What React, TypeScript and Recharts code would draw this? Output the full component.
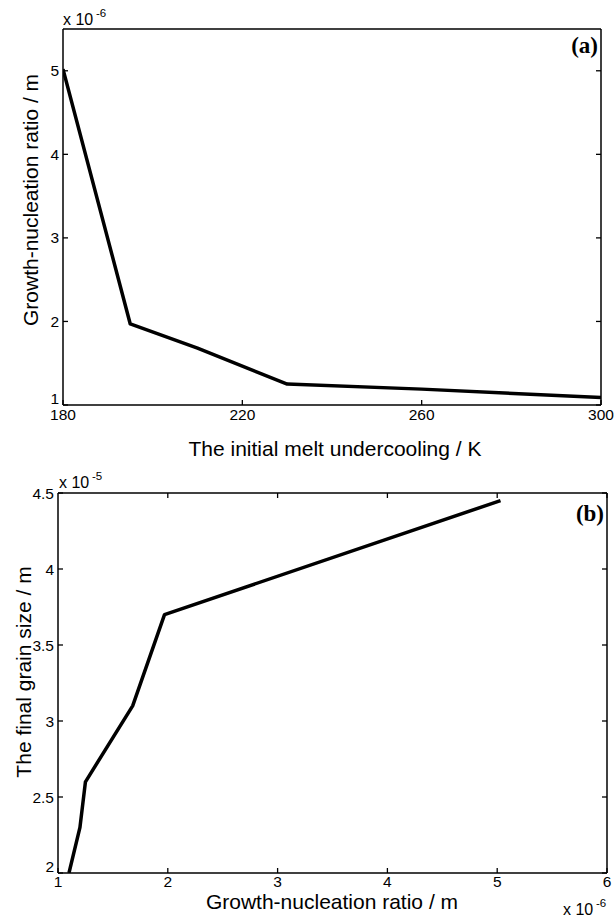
import React from "react";
import { LineChart, Line, XAxis, YAxis, Label } from "recharts";

// (a) growth-nucleation ratio (x 1e-6 m) against initial melt undercooling (K)
const undercooling = [180, 195, 210, 230, 260, 300];
const ratioA = [5.02, 1.97, 1.68, 1.25, 1.19, 1.09];

// (b) final grain size (x 1e-5 m) against growth-nucleation ratio (x 1e-6 m)
const ratioB = [1.1, 1.2, 1.25, 1.68, 1.97, 5.03];
const grainSize = [2.0, 2.3, 2.6, 3.1, 3.7, 4.45];

const xTicksA = [180, 220, 260, 300];
const yTicksA = [1, 2, 3, 4, 5];
const xTicksB = [1, 2, 3, 4, 5, 6];
const yTicksB = [2, 2.5, 3, 3.5, 4, 4.5];

const dataA = undercooling.map((x, i) => ({ x, y: ratioA[i] }));
const dataB = ratioB.map((x, i) => ({ x, y: grainSize[i] }));

const SANS = '"Liberation Sans", Arial, sans-serif';
const SERIF = '"Liberation Serif", "Times New Roman", serif';
const TICK_LEN = 5;
const TICK_FONT = 15.5;
const TITLE_FONT = 21;

// inward MATLAB-style tick marks, optional label
function makeTick(side: string, showLabel: boolean, minVal?: number, labelGap = 9) {
  return (props: any) => {
    const { x, y, payload } = props;
    const v = payload.value;
    let line;
    let label = null;
    const txt = { fontFamily: SANS, fontSize: TICK_FONT, fill: "#000" };
    if (side === "bottom") {
      line = <line x1={x} y1={y} x2={x} y2={y - TICK_LEN} stroke="#000" strokeWidth={1.3} />;
      if (showLabel)
        label = (
          <text x={x} y={y + labelGap} textAnchor="middle" dominantBaseline="central" {...txt}>
            {String(v)}
          </text>
        );
    } else if (side === "top") {
      line = <line x1={x} y1={y} x2={x} y2={y + TICK_LEN} stroke="#000" strokeWidth={1.3} />;
    } else if (side === "left") {
      line = <line x1={x} y1={y} x2={x + TICK_LEN} y2={y} stroke="#000" strokeWidth={1.3} />;
      if (showLabel)
        label = (
          <text
            x={x - 4}
            y={v === minVal ? y - 7 : y}
            textAnchor="end"
            dominantBaseline="central"
            {...txt}
          >
            {String(v)}
          </text>
        );
    } else {
      line = <line x1={x} y1={y} x2={x - TICK_LEN} y2={y} stroke="#000" strokeWidth={1.3} />;
    }
    return (
      <g>
        {line}
        {label}
      </g>
    );
  };
}

const axisLine = { stroke: "#000", strokeWidth: 1.5 };

function Exponent({ x, y, exp }: { x: number; y: number; exp: string }) {
  return (
    <g fontFamily={SANS} fill="#000">
      <text x={x} y={y} fontSize={16}>
        x 10
      </text>
      <text x={x + 33} y={y - 8} fontSize={11.5}>
        {exp}
      </text>
    </g>
  );
}

export default function App() {
  return (
    <div style={{ position: "absolute", left: 0, top: 0, width: 615, height: 918, background: "#fff" }}>
      {/* Panel (a): plot box 63..601 x 29..405 */}
      <div style={{ position: "absolute", left: 0, top: 0 }}>
        <LineChart
          width={615}
          height={470}
          data={dataA}
          margin={{ top: 19, right: 9, bottom: 45, left: 33 }}
        >
          <XAxis
            dataKey="x"
            type="number"
            domain={[180, 300]}
            ticks={xTicksA}
            interval={0}
            height={20}
            tickSize={0}
            tickMargin={0}
            axisLine={axisLine}
            tickLine={false}
            tick={makeTick("bottom", true)}
            allowDataOverflow
          >
            <Label
              content={() => (
                <text
                  x={335}
                  y={448}
                  textAnchor="middle"
                  dominantBaseline="central"
                  fontFamily={SANS}
                  fontSize={TITLE_FONT}
                  fill="#000"
                >
                  The initial melt undercooling / K
                </text>
              )}
            />
          </XAxis>
          <XAxis
            xAxisId="top"
            orientation="top"
            type="number"
            domain={[180, 300]}
            ticks={xTicksA}
            interval={0}
            height={10}
            tickSize={0}
            tickMargin={0}
            axisLine={axisLine}
            tickLine={false}
            tick={makeTick("top", false)}
            allowDataOverflow
          >
            <Label
              content={() => (
                <g>
                  <Exponent x={63} y={25} exp="-6" />
                  <text x={598} y={53} textAnchor="end" fontFamily={SERIF} fontWeight="bold" fontSize={23} fill="#000">
                    (a)
                  </text>
                </g>
              )}
            />
          </XAxis>
          <YAxis
            type="number"
            domain={[1, 5.5]}
            ticks={yTicksA}
            interval={0}
            width={30}
            tickSize={0}
            tickMargin={0}
            axisLine={axisLine}
            tickLine={false}
            tick={makeTick("left", true, 1)}
            allowDataOverflow
          >
            <Label
              content={() => (
                <text
                  x={30}
                  y={200}
                  textAnchor="middle"
                  dominantBaseline="central"
                  transform="rotate(-90 30 200)"
                  fontFamily={SANS}
                  fontSize={TITLE_FONT}
                  fill="#000"
                >
                  Growth-nucleation ratio / m
                </text>
              )}
            />
          </YAxis>
          <YAxis
            yAxisId="right"
            orientation="right"
            type="number"
            domain={[1, 5.5]}
            ticks={yTicksA}
            interval={0}
            width={5}
            tickSize={0}
            tickMargin={0}
            axisLine={axisLine}
            tickLine={false}
            tick={makeTick("right", false)}
            allowDataOverflow
          />
          <Line
            type="linear"
            dataKey="y"
            stroke="#000"
            strokeWidth={3.5}
            strokeLinejoin="round"
            dot={false}
            isAnimationActive={false}
          />
        </LineChart>
      </div>

      {/* Panel (b): plot box 58..607 x 493..873 (page) */}
      <div style={{ position: "absolute", left: 0, top: 460 }}>
        <LineChart
          width={615}
          height={458}
          data={dataB}
          margin={{ top: 23, right: 3, bottom: 25, left: 28 }}
        >
          <XAxis
            dataKey="x"
            type="number"
            domain={[1, 6]}
            ticks={xTicksB}
            interval={0}
            height={20}
            tickSize={0}
            tickMargin={0}
            axisLine={axisLine}
            tickLine={false}
            tick={makeTick("bottom", true, undefined, 8)}
            allowDataOverflow
          >
            <Label
              content={() => (
                <g>
                  <text
                    x={332}
                    y={441}
                    textAnchor="middle"
                    dominantBaseline="central"
                    fontFamily={SANS}
                    fontSize={TITLE_FONT}
                    fill="#000"
                  >
                    Growth-nucleation ratio / m
                  </text>
                  <Exponent x={563} y={455} exp="-6" />
                </g>
              )}
            />
          </XAxis>
          <XAxis
            xAxisId="top"
            orientation="top"
            type="number"
            domain={[1, 6]}
            ticks={xTicksB}
            interval={0}
            height={10}
            tickSize={0}
            tickMargin={0}
            axisLine={axisLine}
            tickLine={false}
            tick={makeTick("top", false)}
            allowDataOverflow
          >
            <Label
              content={() => (
                <g>
                  <Exponent x={59} y={28} exp="-5" />
                  <text x={604} y={61} textAnchor="end" fontFamily={SERIF} fontWeight="bold" fontSize={23} fill="#000">
                    (b)
                  </text>
                </g>
              )}
            />
          </XAxis>
          <YAxis
            type="number"
            domain={[2, 4.5]}
            ticks={yTicksB}
            interval={0}
            width={30}
            tickSize={0}
            tickMargin={0}
            axisLine={axisLine}
            tickLine={false}
            tick={makeTick("left", true, 2)}
            allowDataOverflow
          >
            <Label
              content={() => (
                <text
                  x={23}
                  y={212}
                  textAnchor="middle"
                  dominantBaseline="central"
                  transform="rotate(-90 23 212)"
                  fontFamily={SANS}
                  fontSize={TITLE_FONT}
                  fill="#000"
                >
                  The final grain size / m
                </text>
              )}
            />
          </YAxis>
          <YAxis
            yAxisId="right"
            orientation="right"
            type="number"
            domain={[2, 4.5]}
            ticks={yTicksB}
            interval={0}
            width={5}
            tickSize={0}
            tickMargin={0}
            axisLine={axisLine}
            tickLine={false}
            tick={makeTick("right", false)}
            allowDataOverflow
          />
          <Line
            type="linear"
            dataKey="y"
            stroke="#000"
            strokeWidth={3.5}
            strokeLinejoin="round"
            dot={false}
            isAnimationActive={false}
          />
        </LineChart>
      </div>
    </div>
  );
}
